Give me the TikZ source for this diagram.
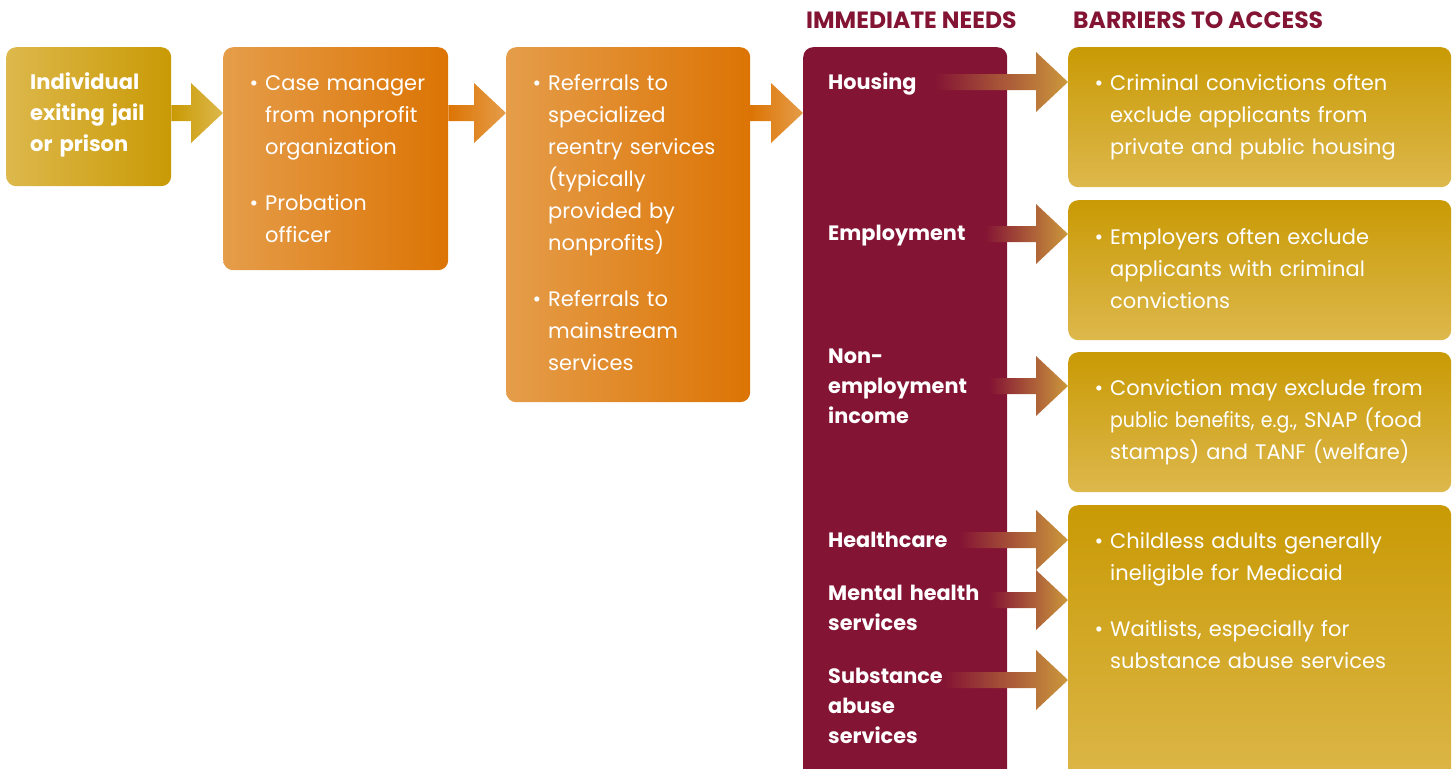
\documentclass[tikz,border=0pt]{standalone}
\usepackage{fontspec}
\setmainfont{Poppins}
\usetikzlibrary{calc}

\definecolor{goldlight}{RGB}{221,184,76}
\definecolor{golddark}{RGB}{201,154,5}
\definecolor{orangelight}{RGB}{229,157,74}
\definecolor{orangedark}{RGB}{220,116,4}
\definecolor{wine}{RGB}{132,20,52}
\definecolor{tan}{RGB}{204,152,60}

% bullet hanging left of the first word
\newcommand{\bul}{\leavevmode\llap{\textbullet\hspace{7bp}}}

% block arrow: #1 style, #2 shaft start, #3 tip
\newcommand{\blockarrow}[3]{%
  \path[#1] ($(#2)+(0,-8)$) -- ($(#3)+(-32,-8)$) -- ++(0,-22) -- (#3)
    -- ++(-32,30) -- ++(0,-22) -- ($(#2)+(0,8)$) -- cycle;}

\tikzset{
  box/.style={anchor=north west, inner sep=0pt, rounded corners=10bp},
  goldbox/.style={box, top color=golddark, bottom color=goldlight,
    minimum width=383bp},
  txt/.style={anchor=base west, inner sep=0pt, text=white, align=left,
    text width=#1, font=\fontsize{21bp}{32bp}\selectfont},
  boldtxt/.style={txt=#1, font=\fontsize{21bp}{31bp}\selectfont\bfseries},
  needtxt/.style={txt=175bp, font=\fontsize{20.8bp}{30bp}\selectfont\bfseries},
  header/.style={anchor=base west, inner sep=0pt, text=wine,
    font=\fontsize{23.5bp}{25bp}\selectfont\bfseries},
  needarrow/.style={left color=wine, right color=tan}
}

\begin{document}
\begin{tikzpicture}[x=1bp, y=-1bp]
  \useasboundingbox (0,0) rectangle (1455,768);

  % column headers
  \node[header] (hneeds) at (806,29) {IMMEDIATE NEEDS};
  \node[header] (hbarr) at (1073,29) {BARRIERS TO ACCESS};

  % left flow
  \node[box, minimum width=165bp, minimum height=139bp,
    left color=goldlight, right color=golddark] (ind) at (6,47) {};
  \node[box, minimum width=225bp, minimum height=223bp,
    left color=orangelight, right color=orangedark] (mgr) at (223,47) {};
  \node[box, minimum width=244bp, minimum height=355bp,
    left color=orangelight, right color=orangedark] (ref) at (506,47) {};

  \node[boldtxt=140bp] (indtxt) at (30,89) {Individual\\exiting jail\\or prison};
  \node[txt=190bp] (mgrtxt) at (265,90)
    {\bul Case manager\\from nonprofit\\organization\\[24bp]\bul Probation\\officer};
  \node[txt=200bp] (reftxt) at (548,90)
    {\bul Referrals to\\specialized\\reentry services\\(typically\\provided by\\nonprofits)\\[24bp]%
     \bul Referrals to\\mainstream\\services};

  % needs column
  \node[box, minimum width=204bp, minimum height=750bp, fill=wine] (needs) at (803,47) {};

  % barriers column
  \node[goldbox, minimum height=140bp] (bhouse) at (1068,47) {};
  \node[goldbox, minimum height=140bp] (bjob) at (1068,200) {};
  \node[goldbox, minimum height=140bp] (bincome) at (1068,352) {};
  \node[goldbox, minimum height=290bp] (bhealth) at (1068,505) {};

  % arrows along the top row
  \coordinate (row) at (0,113);
  \blockarrow{left color=golddark, right color=goldlight}{ind.east |- row}{mgr.west |- row}
  \blockarrow{left color=orangedark, right color=orangelight}{mgr.east |- row}{ref.west |- row}
  \blockarrow{left color=orangedark, right color=orangelight}{ref.east |- row}{needs.west |- row}

  % needs labels
  \node[needtxt] (nhouse) at (828,89) {Housing};
  \node[needtxt] (njob) at (828,240) {Employment};
  \node[needtxt] (nincome) at (828,363) {Non-\\employment\\income};
  \node[needtxt] (nhealth) at (828,547) {Healthcare};
  \node[needtxt] (nmental) at (828,600) {Mental health\\services};
  \node[needtxt] (nsubst) at (828,683) {Substance\\abuse\\services};

  % arrows from needs to barriers
  \blockarrow{needarrow}{935,82}{bhouse.west |- 0,82}
  \blockarrow{needarrow}{985,234}{bjob.west |- 0,234}
  \blockarrow{needarrow}{990,386}{bincome.west |- 0,386}
  \blockarrow{needarrow}{960,540}{bhealth.west |- 0,540}
  \blockarrow{needarrow}{990,600}{bhealth.west |- 0,600}
  \blockarrow{needarrow}{945,680}{bhealth.west |- 0,680}

  % barrier texts
  \node[txt=340bp] (thouse) at (1110,90)
    {\bul Criminal convictions often\\exclude applicants from\\private and public housing};
  \node[txt=340bp] (tjob) at (1110,244)
    {\bul Employers often exclude\\applicants with criminal\\convictions};
  \node[txt=340bp] (tincome) at (1110,395)
    {\bul Conviction may exclude from\\\scalebox{0.9}[1]{public benefits, e.g.,} SNAP (food\\stamps) and TANF (welfare)};
  \node[txt=340bp] (thealth) at (1110,548)
    {\bul Childless adults generally\\ineligible for Medicaid\\[24bp]%
     \bul Waitlists, especially for\\substance abuse services};

\end{tikzpicture}
\end{document}
